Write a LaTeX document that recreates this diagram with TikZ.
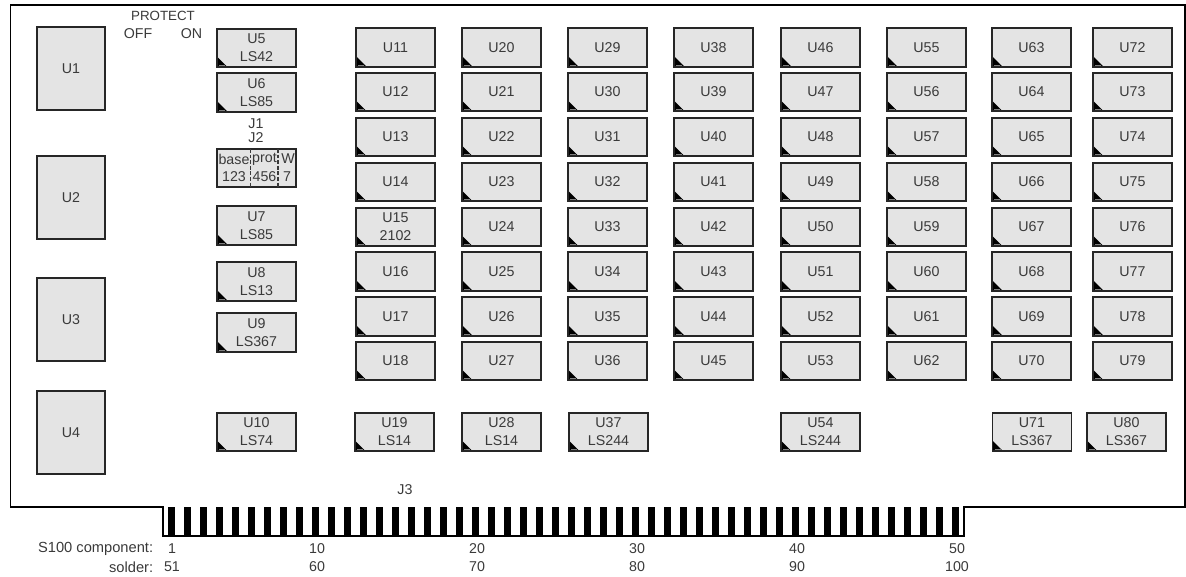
\documentclass[tikz,border=0pt]{standalone}
\usepackage{fontspec}
\setmainfont{Liberation Sans}
\definecolor{chipgray}{HTML}{E4E4E4}
\definecolor{inkgray}{HTML}{3A3A3A}
\tikzset{
	part/.style={draw=black!85, line width=0.95pt, fill=chipgray, inner sep=0pt, text=inkgray, align=center, font=\fontsize{8.1}{10.25}\selectfont},
	chip/.style={part, minimum width=1.58cm, minimum height=0.77cm,
		path picture={
			\fill[black] (path picture bounding box.south west) -- ++(10.5,0) -- ++(-10.5,-10.5) -- cycle;
			\draw[gray, line width=0.3pt] ([shift={(2,-1.5)}]path picture bounding box.south west) -- ++(6,0);
		}},
	bigchip/.style={part, minimum width=1.36cm, minimum height=1.66cm},
	label/.style={inner sep=0pt, text=inkgray, align=center, font=\fontsize{8.1}{10.25}\selectfont},
	divider/.style={dashed, dash pattern=on 2.2pt off 1pt, draw=inkgray, line width=0.6pt}
}
\begin{document}
\begin{tikzpicture}[x=0.02cm, y=-0.02cm]
	\useasboundingbox (0,0) rectangle (1186,577);
	\draw[line width=0.8pt, draw=black] (10.5,5) -- (1185,5) -- (1185,507) -- (964,507) -- (964,536) -- (163,536) -- (163,507) -- (10.5,507) -- cycle;
	\foreach \i in {0,...,49}{
		\fill[black] (168+16*\i,507) rectangle (174.5+16*\i,536);
	}
	\foreach \i\j in {1/68.5,2/197.5,3/319.5,4/432.5}{
		\node[bigchip] (U\i) at (71,\j) {U\i};
	}
	\foreach \i\j\k in {5/256.5/48,6/256.5/92.5,7/256.5/225.5,8/256.5/281.5,9/256.5/332.5,10/256.5/432}{
		\node[chip] (U\i) at (\j,\k) {};
	}
	\node[label] at (U5) {U5\\LS42};
	\node[label] at (U6) {U6\\LS85};
	\node[label] at (U7) {U7\\LS85};
	\node[label] at (U8) {U8\\LS13};
	\node[label] at (U9) {U9\\LS367};
	\node[label] at (U10) {U10\\LS74};
	\foreach \i\j in {11/47.5,12/92,13/137,14/182,15/227,16/271.5,17/316.5,18/361}{
		\node[chip] (U\i) at (395.5,\j) {};
	}
	\foreach \i\j in {11/U11,12/U12,13/U13,14/U14,15/{U15\\2102},16/U16,17/U17,18/U18}{
		\node[label] at (U\i) {\j};
	}
	\foreach \x\b in {501.5/20,607.5/29,713.5/38,820.5/46,926.5/55,1031.5/63,1132.5/72}{
		\foreach \r\j in {0/47.5,1/92,2/137,3/182,4/227,5/271.5,6/316.5,7/361}{
			\pgfmathtruncatemacro{\n}{\b+\r}
			\node[chip] (U\n) at (\x,\j) {U\n};
		}
	}
	\foreach \i\x\j in {19/394.5/LS14,28/501.5/LS14,37/608.5/LS244,54/820.5/LS244,71/1032/LS367,80/1126.5/LS367}{
		\node[chip] (U\i) at (\x,432) {};
		\node[label] at (U\i) {U\i\\\j};
	}
	\node[part, minimum width=1.58cm, minimum height=0.76cm] (J2) at (256.5,168) {};
	\coordinate (Jatop) at (250.5,149);
	\coordinate (Jabot) at (250.5,187);
	\coordinate (Jbtop) at (278,149);
	\coordinate (Jbbot) at (278,187);
	\draw[divider] (Jatop) -- (Jabot);
	\draw[divider] (Jbtop) -- (Jbbot);
	\foreach \i\j in {234/base,264.5/prot,288/W}{
		\node[label] at (\i,159) {\j};
	}
	\node[label] at (234,177) {123};
	\node[label] at (264.5,177) {456};
	\node[label] at (287,177) {7};
	\node[label, font=\fontsize{7.6}{10.25}\selectfont] (protect) at (163,16) {PROTECT};
	\node[label] (off) at (138,33.5) {OFF};
	\node[label] (on) at (191.5,33.5) {ON};
	\node[label] (J1) at (256,124) {J1};
	\node[label] (J2name) at (256,138) {J2};
	\node[label] (J3) at (405,490) {J3};
	\node[label, anchor=east, font=\fontsize{8.35}{10.25}\selectfont] (component) at (153.5,549) {S100 component:};
	\node[label, anchor=east, font=\fontsize{8.35}{10.25}\selectfont] (solder) at (153.5,567) {solder:};
	\foreach \i\j\k in {172/1/51,317/10/60,477/20/70,637/30/80,797/40/90,957/50/100}{
		\node[label] at (\i,549) {\j};
		\node[label] at (\i,567) {\k};
	}
\end{tikzpicture}
\end{document}
